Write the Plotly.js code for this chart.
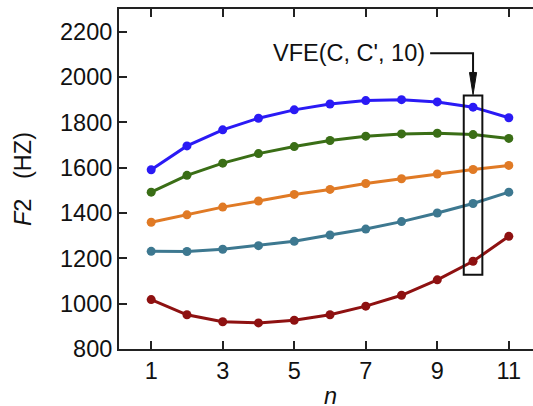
<!DOCTYPE html>
<html>
<head>
<meta charset="utf-8">
<script src="https://cdn.plot.ly/plotly-3.0.1.min.js"></script>
<style>
html, body { margin:0; padding:0; overflow:hidden; width:533px; height:406px; background:#fff; }
#chart { width:560px; height:406px; }
</style>
</head>
<body>
<div id="chart"></div>
<script>
const n = [1,2,3,4,5,6,7,8,9,10,11];
const blue   = [1591,1696,1767,1818,1855,1881,1896,1900,1890,1867,1820];
const green  = [1492,1566,1620,1662,1693,1720,1739,1749,1752,1746,1729];
const orange = [1359,1392,1426,1453,1482,1504,1530,1551,1572,1592,1610];
const teal   = [1231,1230,1240,1256,1275,1303,1329,1362,1400,1442,1492];
const red    = [1018, 951, 920, 915, 927, 951, 989,1037,1105,1187,1297];
const xTicks = [1,3,5,7,9,11];
const yTicks = [800,1000,1200,1400,1600,1800,2000,2200];
const annText = "VFE(C, C', 10)";
const xTitle = '<i>n</i>';
const yTitle = '<i>F</i>2&nbsp;&nbsp;&nbsp;(HZ)';
const boxX = [9.74, 10.26];
const boxY = [1128, 1918];

const colors = ['#2a1af5','#3a6e16','#e07a25','#3d7890','#8e1111'];
const series = [blue, green, orange, teal, red];

const traces = series.map((s,i)=>({
  x: n, y: s, type:'scatter', mode:'lines+markers',
  line:{color:colors[i], width:3},
  marker:{color:colors[i], size:9},
  showlegend:false, hoverinfo:'none'
}));

const font = {family:'"Liberation Sans", Arial, sans-serif', size:23.5, color:'#111'};

// arrow geometry (data coords)
const arrowX = 10, lineStartX = 8.8, lineY = 2105, headTopY = 2020, tipY = 1922, headHalf = 0.1;

const layout = {
  width:560, height:406,
  margin:{l:119, r:19, t:9, b:57},
  paper_bgcolor:'#fff', plot_bgcolor:'#fff',
  font: font,
  xaxis:{
    range:[0.1, 11.9], tickvals:xTicks, ticktext:xTicks.map(String),
    ticks:'inside', ticklen:8, tickwidth:2, tickcolor:'#222',
    showline:true, linewidth:2, linecolor:'#222', mirror:'ticks',
    showgrid:false, zeroline:false, tickfont:font
  },
  yaxis:{
    range:[800, 2300], tickvals:yTicks, ticktext:yTicks.map(String),
    ticks:'inside', ticklen:8, tickwidth:2, tickcolor:'#222',
    showline:true, linewidth:2, linecolor:'#222', mirror:'ticks',
    showgrid:false, zeroline:false, tickfont:font
  },
  shapes:[
    {type:'rect', xref:'x', yref:'y', x0:boxX[0], x1:boxX[1], y0:boxY[0], y1:boxY[1],
     line:{color:'#111', width:2}, fillcolor:'rgba(0,0,0,0)'},
    {type:'path', xref:'x', yref:'y',
     path:`M ${lineStartX},${lineY} L ${arrowX},${lineY} L ${arrowX},${headTopY}`,
     line:{color:'#111', width:2}},
    {type:'path', xref:'x', yref:'y',
     path:`M ${arrowX-headHalf},${headTopY} L ${arrowX+headHalf},${headTopY} L ${arrowX},${tipY} Z`,
     line:{color:'#111', width:1}, fillcolor:'#111'}
  ],
  annotations:[
    {xref:'x', yref:'y', x:lineStartX, y:lineY, xanchor:'right', yanchor:'middle',
     xshift:-3, text:annText, showarrow:false, font:font},
    {xref:'paper', yref:'paper', x:0.5, y:0, xanchor:'center', yanchor:'middle',
     yshift:-47, text:xTitle, showarrow:false, font:font},
    {xref:'paper', yref:'paper', x:0, y:0.5, xanchor:'center', yanchor:'middle',
     xshift:-96, textangle:-90, text:yTitle, showarrow:false, font:font}
  ]
};

Plotly.newPlot('chart', traces, layout, {staticPlot:true, displayModeBar:false});
</script>
</body>
</html>
